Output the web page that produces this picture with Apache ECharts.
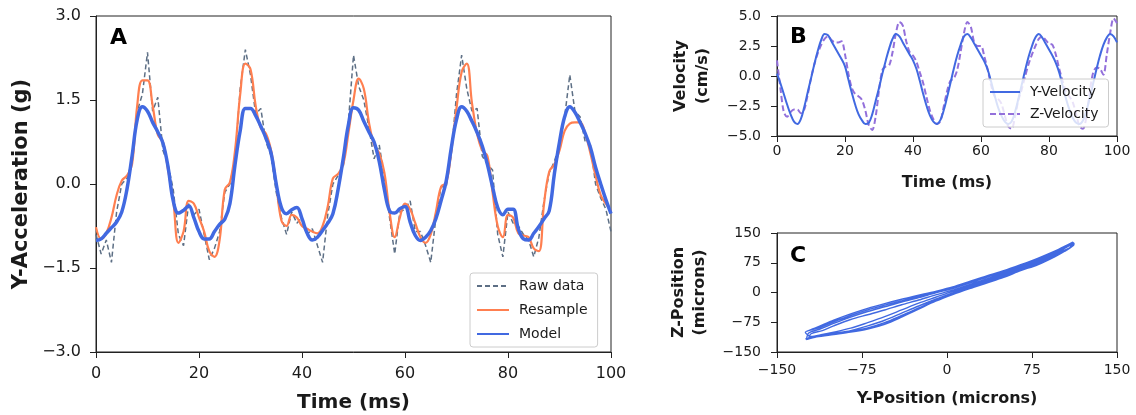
<!DOCTYPE html>
<html><head><meta charset="utf-8">
<script src="https://cdn.jsdelivr.net/npm/echarts@6/dist/echarts.min.js"></script>
<style>html,body{margin:0;padding:0;background:#fff}#c{width:1136px;height:415px}</style>
</head><body><div id="c"></div>
<script>
// ---------- Panel A data (t = 0..100 ms, 1 ms step) ----------
const timeA = Array.from({length:101},(_, i)=>i);
const rawData = [-0.9,-1.25,-1.0,-1.4,-0.5,0.0,0.1,0.4,1.3,1.6,2.35,1.3,1.55,0.6,0.35,-0.1,-0.9,-1.1,-0.35,-0.55,
 -0.45,-0.9,-1.35,-1.15,-0.85,-0.15,0.0,0.45,1.7,2.4,1.95,1.25,1.35,0.75,0.5,-0.15,-0.6,-0.9,-0.5,-0.7,
 -0.6,-0.9,-0.8,-1.1,-1.4,-0.55,0.0,0.15,0.3,1.1,2.3,1.75,1.5,1.0,0.45,0.7,0.1,-0.6,-1.25,-0.5,
 -0.45,-0.3,-0.85,-0.85,-1.1,-1.4,-0.6,-0.05,-0.05,0.55,1.6,2.3,1.7,1.3,1.35,0.5,0.35,0.25,-0.9,-1.3,
 -0.5,-0.7,-0.75,-0.9,-1.0,-1.3,-0.95,-0.3,0.2,0.4,0.7,1.2,1.95,1.3,1.2,0.75,0.7,0.0,-0.25,-0.45,-0.85];
const resample = [-0.77,-0.98,-0.88,-0.6,-0.2,0.06,0.15,0.35,1.4,1.85,1.85,1.4,0.88,0.75,0.25,-0.3,-1.05,-0.85,-0.3,-0.35,
 -0.6,-0.85,-1.2,-1.3,-1.0,-0.1,0.03,0.6,1.6,2.15,2.05,1.4,1.0,0.9,0.6,0.0,-0.65,-0.75,-0.55,-0.6,
 -0.75,-0.8,-0.85,-0.88,-0.75,-0.4,0.1,0.18,0.35,0.9,1.5,1.88,1.7,1.1,0.7,0.55,0.2,-0.5,-0.95,-0.6,
 -0.35,-0.45,-0.7,-0.95,-1.05,-0.9,-0.5,-0.05,0.02,0.6,1.35,2.0,2.15,1.45,0.9,0.6,0.5,-0.15,-0.75,-0.95,
 -0.55,-0.6,-0.88,-0.92,-0.95,-1.15,-1.2,-0.35,0.22,0.35,0.6,0.95,1.08,1.1,1.1,0.9,0.55,0.15,-0.2,-0.35,-0.48];
const model = [-1.01,-0.98,-0.88,-0.78,-0.68,-0.5,-0.1,0.5,1.15,1.38,1.3,1.1,0.93,0.73,0.3,-0.3,-0.52,-0.47,-0.39,-0.6,
 -0.85,-0.98,-0.98,-0.85,-0.72,-0.63,-0.35,0.35,0.95,1.35,1.35,1.22,1.03,0.82,0.55,0.0,-0.42,-0.53,-0.46,-0.42,
 -0.62,-0.88,-1.0,-0.95,-0.83,-0.7,-0.53,-0.1,0.45,1.05,1.36,1.32,1.12,0.93,0.75,0.4,-0.1,-0.48,-0.52,-0.44,
 -0.4,-0.68,-0.92,-1.01,-0.95,-0.83,-0.62,-0.3,0.05,0.65,1.15,1.38,1.3,1.12,0.92,0.68,0.35,-0.05,-0.42,-0.55,
 -0.45,-0.45,-0.8,-0.98,-1.0,-0.88,-0.76,-0.62,-0.48,0.18,0.75,1.2,1.38,1.28,1.1,0.9,0.65,0.3,0.0,-0.28,-0.53];

// ---------- Panel B data ----------
const timeB = Array.from({length:101},(_, i)=>i);
const yVelocity = [0.2,-0.6,-1.5,-2.4,-3.2,-3.8,-4.0,-3.6,-2.6,-1.4,-0.2,1.0,2.1,3.0,3.5,3.4,2.9,2.4,1.9,1.4,
 0.8,-0.3,-1.4,-2.4,-3.2,-3.7,-4.0,-3.9,-3.2,-2.1,-1.0,0.2,1.3,2.3,3.1,3.5,3.3,2.8,2.3,1.8,
 1.3,0.6,-0.4,-1.5,-2.5,-3.3,-3.8,-4.0,-3.7,-2.9,-1.8,-0.6,0.6,1.7,2.6,3.3,3.5,3.2,2.7,2.2,
 1.7,1.2,0.5,-0.5,-1.6,-2.6,-3.3,-3.8,-4.0,-3.8,-3.0,-1.9,-0.7,0.5,1.6,2.5,3.2,3.5,3.2,2.7,
 2.2,1.7,1.1,0.3,-0.8,-1.9,-2.8,-3.5,-3.9,-4.0,-3.7,-2.9,-1.8,-0.6,0.6,1.7,2.6,3.2,3.5,3.3,2.8];
const zVelocity = [1.3,-1.0,-3.0,-3.4,-3.0,-2.8,-2.8,-3.1,-2.8,-1.6,-0.2,1.0,1.9,2.6,3.1,3.3,3.0,2.8,2.8,2.9,
 1.8,0.2,-1.0,-1.5,-1.7,-2.0,-2.9,-4.1,-4.5,-3.4,-1.2,0.5,0.8,0.9,2.0,3.6,4.5,4.2,2.9,2.0,
 1.7,1.2,0.3,-0.6,-1.8,-2.9,-3.6,-4.0,-3.8,-2.6,-1.3,-0.4,-0.2,0.5,2.0,3.6,4.5,4.1,2.8,2.5,
 2.5,1.6,0.5,-0.8,-1.7,-1.9,-2.3,-3.3,-4.2,-4.4,-3.4,-2.0,-1.1,0.0,1.0,1.8,2.5,3.1,3.3,3.0,
 2.7,2.6,1.8,0.6,-0.4,-1.3,-1.7,-2.2,-3.2,-4.2,-4.4,-3.4,-1.3,0.3,0.7,0.6,0.1,1.8,3.6,4.8,4.4];

// ---------- Panel C data (Y-position, Z-position in microns) ----------
const posY = [
 -124,-115,-100,-85,-70,-55,-40,-25,-10,5,20,35,50,65,80,95,105,111,
 111,105,95,80,65,50,35,20,5,-10,-25,-40,-55,-70,-85,-100,-115,-124,
 -122,-112,-100,-85,-70,-55,-40,-25,-10,5,20,35,50,65,80,95,104,109,
 109,104,95,80,65,50,35,20,5,-10,-25,-40,-55,-70,-85,-100,-112,-122,
 -120,-110,-100,-85,-70,-55,-40,-25,-10,5,20,35,50,65,80,95,103,110,
 110,103,95,80,65,50,35,20,5,-10,-25,-40,-55,-70,-85,-100,-110,-120,
 -125,-114,-100,-85,-70,-55,-40,-25,-10,5,20,35,50,65,80,95,105,112,
 112,105,95,80,65,50,35,20,5,-10,-25,-40,-55,-70,-85,-100,-114,-125];
const posZ = [
 -98,-88,-70,-54,-40,-28,-17,-7,3,14,28,42,55,70,86,104,118,127,
 119,106,90,70,55,38,24,10,-5,-22,-42,-62,-80,-92,-100,-106,-112,-119,
 -102,-92,-78,-62,-48,-36,-24,-13,-1,10,24,38,51,66,82,100,114,122,
 116,104,93,73,58,42,28,14,-1,-17,-34,-52,-70,-84,-96,-103,-109,-114,
 -104,-96,-84,-68,-56,-44,-31,-19,-6,6,20,34,48,63,79,97,110,121,
 117,106,95,76,61,45,31,17,3,-12,-27,-44,-61,-76,-90,-100,-106,-111,
 -100,-90,-74,-58,-44,-32,-21,-10,1,12,26,40,53,68,84,102,116,125,
 121,108,92,72,57,40,26,12,-3,-20,-39,-58,-76,-89,-98,-105,-110,-117];

// ---------- tick definitions ----------
const ticksA_y = [-3.0, -1.5, 0.0, 1.5, 3.0];
const ticksAB_x = [0, 20, 40, 60, 80, 100];
const ticksB_y = [-5.0, -2.5, 0.0, 2.5, 5.0];
const ticksC = [-150, -75, 0, 75, 150];

const FONT = 'DejaVu Sans';
const TXT = '#1a1a1a';
const minus = s => s.replace('-', '\u2212');
const fmt1 = v => minus(v.toFixed(1));
const fmt0 = v => minus(String(Math.round(v)));

function axisCommon(fs, margin){
  return {
    axisLine:{show:true, onZero:false, lineStyle:{color:'#222', width:1}},
    axisTick:{show:true, length:6, inside:false, lineStyle:{color:'#222', width:1}},
    splitLine:{show:false},
    axisLabel:{fontFamily:FONT, fontSize:fs, color:TXT, margin:margin},
    nameTextStyle:{fontFamily:FONT, fontWeight:'bold', color:TXT},
    nameLocation:'middle'
  };
}
function mk(base, extra){ const o = Object.assign({}, base, extra);
  if (extra.axisLabel) o.axisLabel = Object.assign({}, base.axisLabel, extra.axisLabel);
  if (extra.nameTextStyle) o.nameTextStyle = Object.assign({}, base.nameTextStyle, extra.nameTextStyle);
  return o; }

const pair = (xs, ys) => xs.map((x, i) => [x, ys[i]]);

const legendCommon = {
  orient:'vertical', padding:[6,10,6,6],
  backgroundColor:'rgba(255,255,255,0.8)', borderColor:'#cccccc', borderWidth:1, borderRadius:3,
  itemStyle:{opacity:0},
  textStyle:{fontFamily:FONT, fontSize:14, color:TXT, padding:[0,0,0,5]}
};
const gridCommon = {show:true, borderColor:'#222', borderWidth:1, backgroundColor:'transparent',
  containLabel:false, outerBoundsMode:'none'};

const chart = echarts.init(document.getElementById('c'), null, {renderer:'canvas'});
chart.setOption({
  animation:false,
  backgroundColor:'#fff',
  grid:[
    Object.assign({left:96, top:16, width:515, height:336}, gridCommon),
    Object.assign({left:777, top:16, width:340, height:120}, gridCommon),
    Object.assign({left:777, top:233, width:340, height:119}, gridCommon)
  ],
  xAxis:[
    mk(axisCommon(16, 14), {gridIndex:0, type:'value', min:ticksAB_x[0], max:ticksAB_x[5], interval:20,
      axisLabel:{formatter:fmt0}, name:'Time (ms)', nameGap:41, nameTextStyle:{fontSize:20}}),
    mk(axisCommon(14, 8), {gridIndex:1, type:'value', min:ticksAB_x[0], max:ticksAB_x[5], interval:20,
      axisLabel:{formatter:fmt0}, name:'Time (ms)', nameGap:39, nameTextStyle:{fontSize:16}}),
    mk(axisCommon(14, 11), {gridIndex:2, type:'value', min:ticksC[0], max:ticksC[4], interval:75,
      axisLabel:{formatter:fmt0}, name:'Y-Position (microns)', nameGap:39, nameTextStyle:{fontSize:16}})
  ],
  yAxis:[
    mk(axisCommon(16, 15), {gridIndex:0, type:'value', min:ticksA_y[0], max:ticksA_y[4], interval:1.5,
      axisLabel:{formatter:fmt1}, name:'Y-Acceleration (g)', nameGap:64, nameTextStyle:{fontSize:21}}),
    mk(axisCommon(14, 16), {gridIndex:1, type:'value', min:ticksB_y[0], max:ticksB_y[4], interval:2.5,
      axisLabel:{formatter:fmt1}, name:'Velocity\n(cm/s)', nameGap:63, nameTextStyle:{fontSize:16, lineHeight:22}}),
    mk(axisCommon(14, 16), {gridIndex:2, type:'value', min:ticksC[0], max:ticksC[4], interval:75,
      axisLabel:{formatter:fmt0}, name:'Z-Position\n(microns)', nameGap:67, nameTextStyle:{fontSize:16, lineHeight:21}})
  ],
  legend:[
    Object.assign({}, legendCommon, {data:['Raw data','Resample','Model'], left:470, top:273,
      itemWidth:32, itemHeight:12, itemGap:10}),
    Object.assign({}, legendCommon, {data:['Y-Velocity','Z-Velocity'], left:983, top:79,
      itemWidth:30, itemHeight:12, itemGap:8})
  ],
  graphic:[
    {type:'text', left:110, top:27, style:{text:'A', font:'bold 22px "DejaVu Sans"', fill:'#000'}},
    {type:'text', left:790, top:26, style:{text:'B', font:'bold 22px "DejaVu Sans"', fill:'#000'}},
    {type:'text', left:790, top:245, style:{text:'C', font:'bold 22px "DejaVu Sans"', fill:'#000'}}
  ],
  series:[
    {name:'Raw data', type:'line', xAxisIndex:0, yAxisIndex:0, data:pair(timeA, rawData), symbol:'none',
     lineStyle:{color:'#5d6f85', width:1.5, type:[5,3]}, itemStyle:{color:'#5d6f85'}, z:2},
    {name:'Resample', type:'line', xAxisIndex:0, yAxisIndex:0, data:pair(timeA, resample), symbol:'none', smooth:0.4,
     lineStyle:{color:'#ff7f50', width:2.2}, itemStyle:{color:'#ff7f50'}, z:3},
    {name:'Model', type:'line', xAxisIndex:0, yAxisIndex:0, data:pair(timeA, model), symbol:'none', smooth:0.4,
     lineStyle:{color:'#4169e1', width:3.5}, itemStyle:{color:'#4169e1'}, z:4},
    {name:'Y-Velocity', type:'line', xAxisIndex:1, yAxisIndex:1, data:pair(timeB, yVelocity), symbol:'none', smooth:0.4,
     lineStyle:{color:'#4169e1', width:2}, itemStyle:{color:'#4169e1'}, z:3},
    {name:'Z-Velocity', type:'line', xAxisIndex:1, yAxisIndex:1, data:pair(timeB, zVelocity), symbol:'none', smooth:0.3,
     lineStyle:{color:'#9370db', width:2, type:[6,3]}, itemStyle:{color:'#9370db'}, z:2},
    {name:'Trajectory', type:'line', xAxisIndex:2, yAxisIndex:2, data:pair(posY, posZ), symbol:'none', smooth:0.3,
     lineStyle:{color:'#4169e1', width:1.4}, itemStyle:{color:'#4169e1'}, z:2}
  ]
});
</script></body></html>
